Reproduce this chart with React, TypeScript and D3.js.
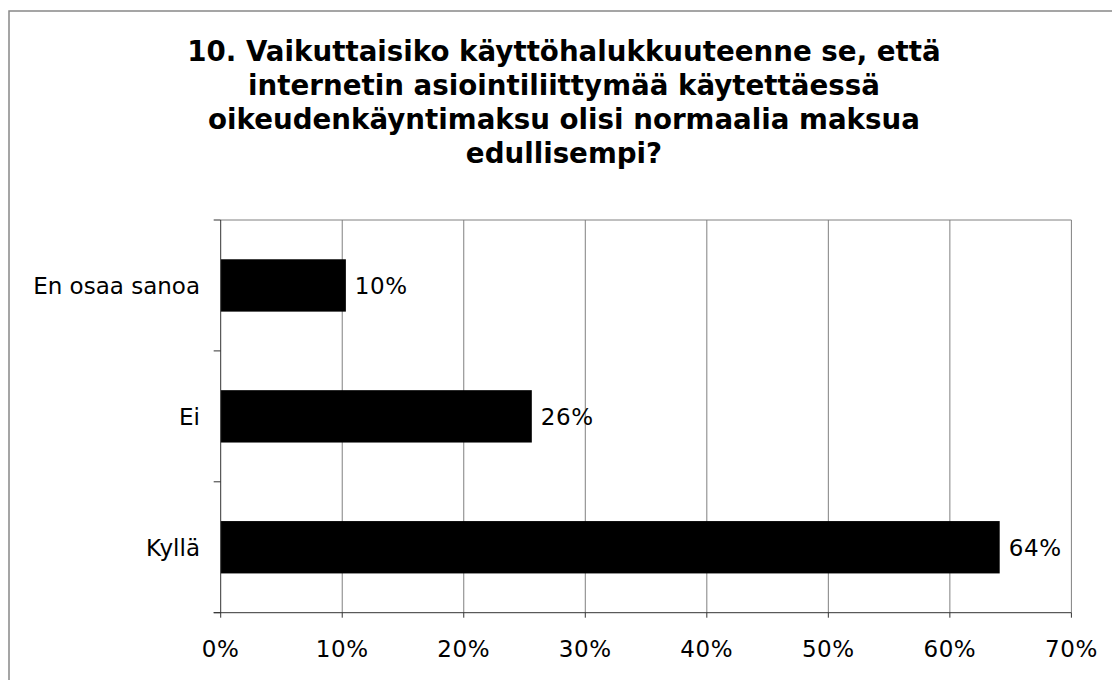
import React from "react";
import * as d3 from "d3";

// data
const categories = ["En osaa sanoa", "Ei", "Kyllä"];
const shares = [10.3, 25.6, 64.1];
const valueLabels = ["10%", "26%", "64%"];
const tickValues = [0, 10, 20, 30, 40, 50, 60, 70];
const titleLines = [
  "10. Vaikuttaisiko käyttöhalukkuuteenne se, että",
  "internetin asiointiliittymää käytettäessä",
  "oikeudenkäyntimaksu olisi normaalia maksua",
  "edullisempi?",
];

const W = 1112;
const H = 680;
const plot = { left: 220.7, right: 1071.4, top: 220, bottom: 612.7 };
const font = "Verdana, 'DejaVu Sans', sans-serif";

export default function App() {
  const x = d3.scaleLinear().domain([0, 70]).range([plot.left, plot.right]);
  const y = d3
    .scaleBand()
    .domain(categories)
    .range([plot.top, plot.bottom])
    .paddingInner(0.6)
    .paddingOuter(0.3);
  const step = y.step();
  // band boundaries for the left ticks
  const bounds = d3.range(categories.length + 1).map((i) => plot.top + i * step);

  return (
    <div style={{ position: "fixed", left: 0, top: 0, width: W, height: H, background: "#fff" }}>
      <svg width={W} height={H} style={{ display: "block" }} fontFamily={font}>
        <rect x={9} y={11} width={1108} height={700} fill="#fff" stroke="#888" strokeWidth={1.5} />

        {titleLines.map((t, i) => (
          <text
            key={i}
            x={564}
            y={61 + i * 34}
            textAnchor="middle"
            fontSize={27.7}
            fontWeight="bold"
            fill="#000"
          >
            {t}
          </text>
        ))}

        {/* plot frame top + grid */}
        <line x1={plot.left} x2={plot.right} y1={plot.top} y2={plot.top} stroke="#808080" />
        {tickValues.slice(1).map((t) => (
          <line key={t} x1={x(t)} x2={x(t)} y1={plot.top} y2={plot.bottom} stroke="#808080" />
        ))}

        {/* bars */}
        {categories.map((c, i) => (
          <g key={c}>
            <rect
              x={x(0)}
              y={y(c)}
              width={x(shares[i]) - x(0)}
              height={y.bandwidth()}
              fill="#000"
            />
            <text
              x={x(shares[i]) + 9}
              y={(y(c) as number) + y.bandwidth() / 2 + 8.5}
              fontSize={23}
              letterSpacing={0.6}
              fill="#000"
            >
              {valueLabels[i]}
            </text>
            <text
              x={plot.left - 20.7}
              y={(y(c) as number) + y.bandwidth() / 2 + 8.5}
              textAnchor="end"
              fontSize={23}
              fill="#000"
            >
              {c}
            </text>
          </g>
        ))}

        {/* axes */}
        <line x1={plot.left} x2={plot.left} y1={plot.top} y2={plot.bottom} stroke="#333" />
        {bounds.map((b, i) => (
          <line key={i} x1={plot.left - 7} x2={plot.left} y1={b} y2={b} stroke="#333" />
        ))}
        <line x1={plot.left - 7} x2={plot.right} y1={plot.bottom} y2={plot.bottom} stroke="#333" />
        {tickValues.map((t) => (
          <g key={t}>
            <line x1={x(t)} x2={x(t)} y1={plot.bottom} y2={plot.bottom + 5} stroke="#333" />
            <text x={x(t)} y={657} textAnchor="middle" fontSize={23} letterSpacing={0.6} fill="#000">
              {t + "%"}
            </text>
          </g>
        ))}
      </svg>
    </div>
  );
}
